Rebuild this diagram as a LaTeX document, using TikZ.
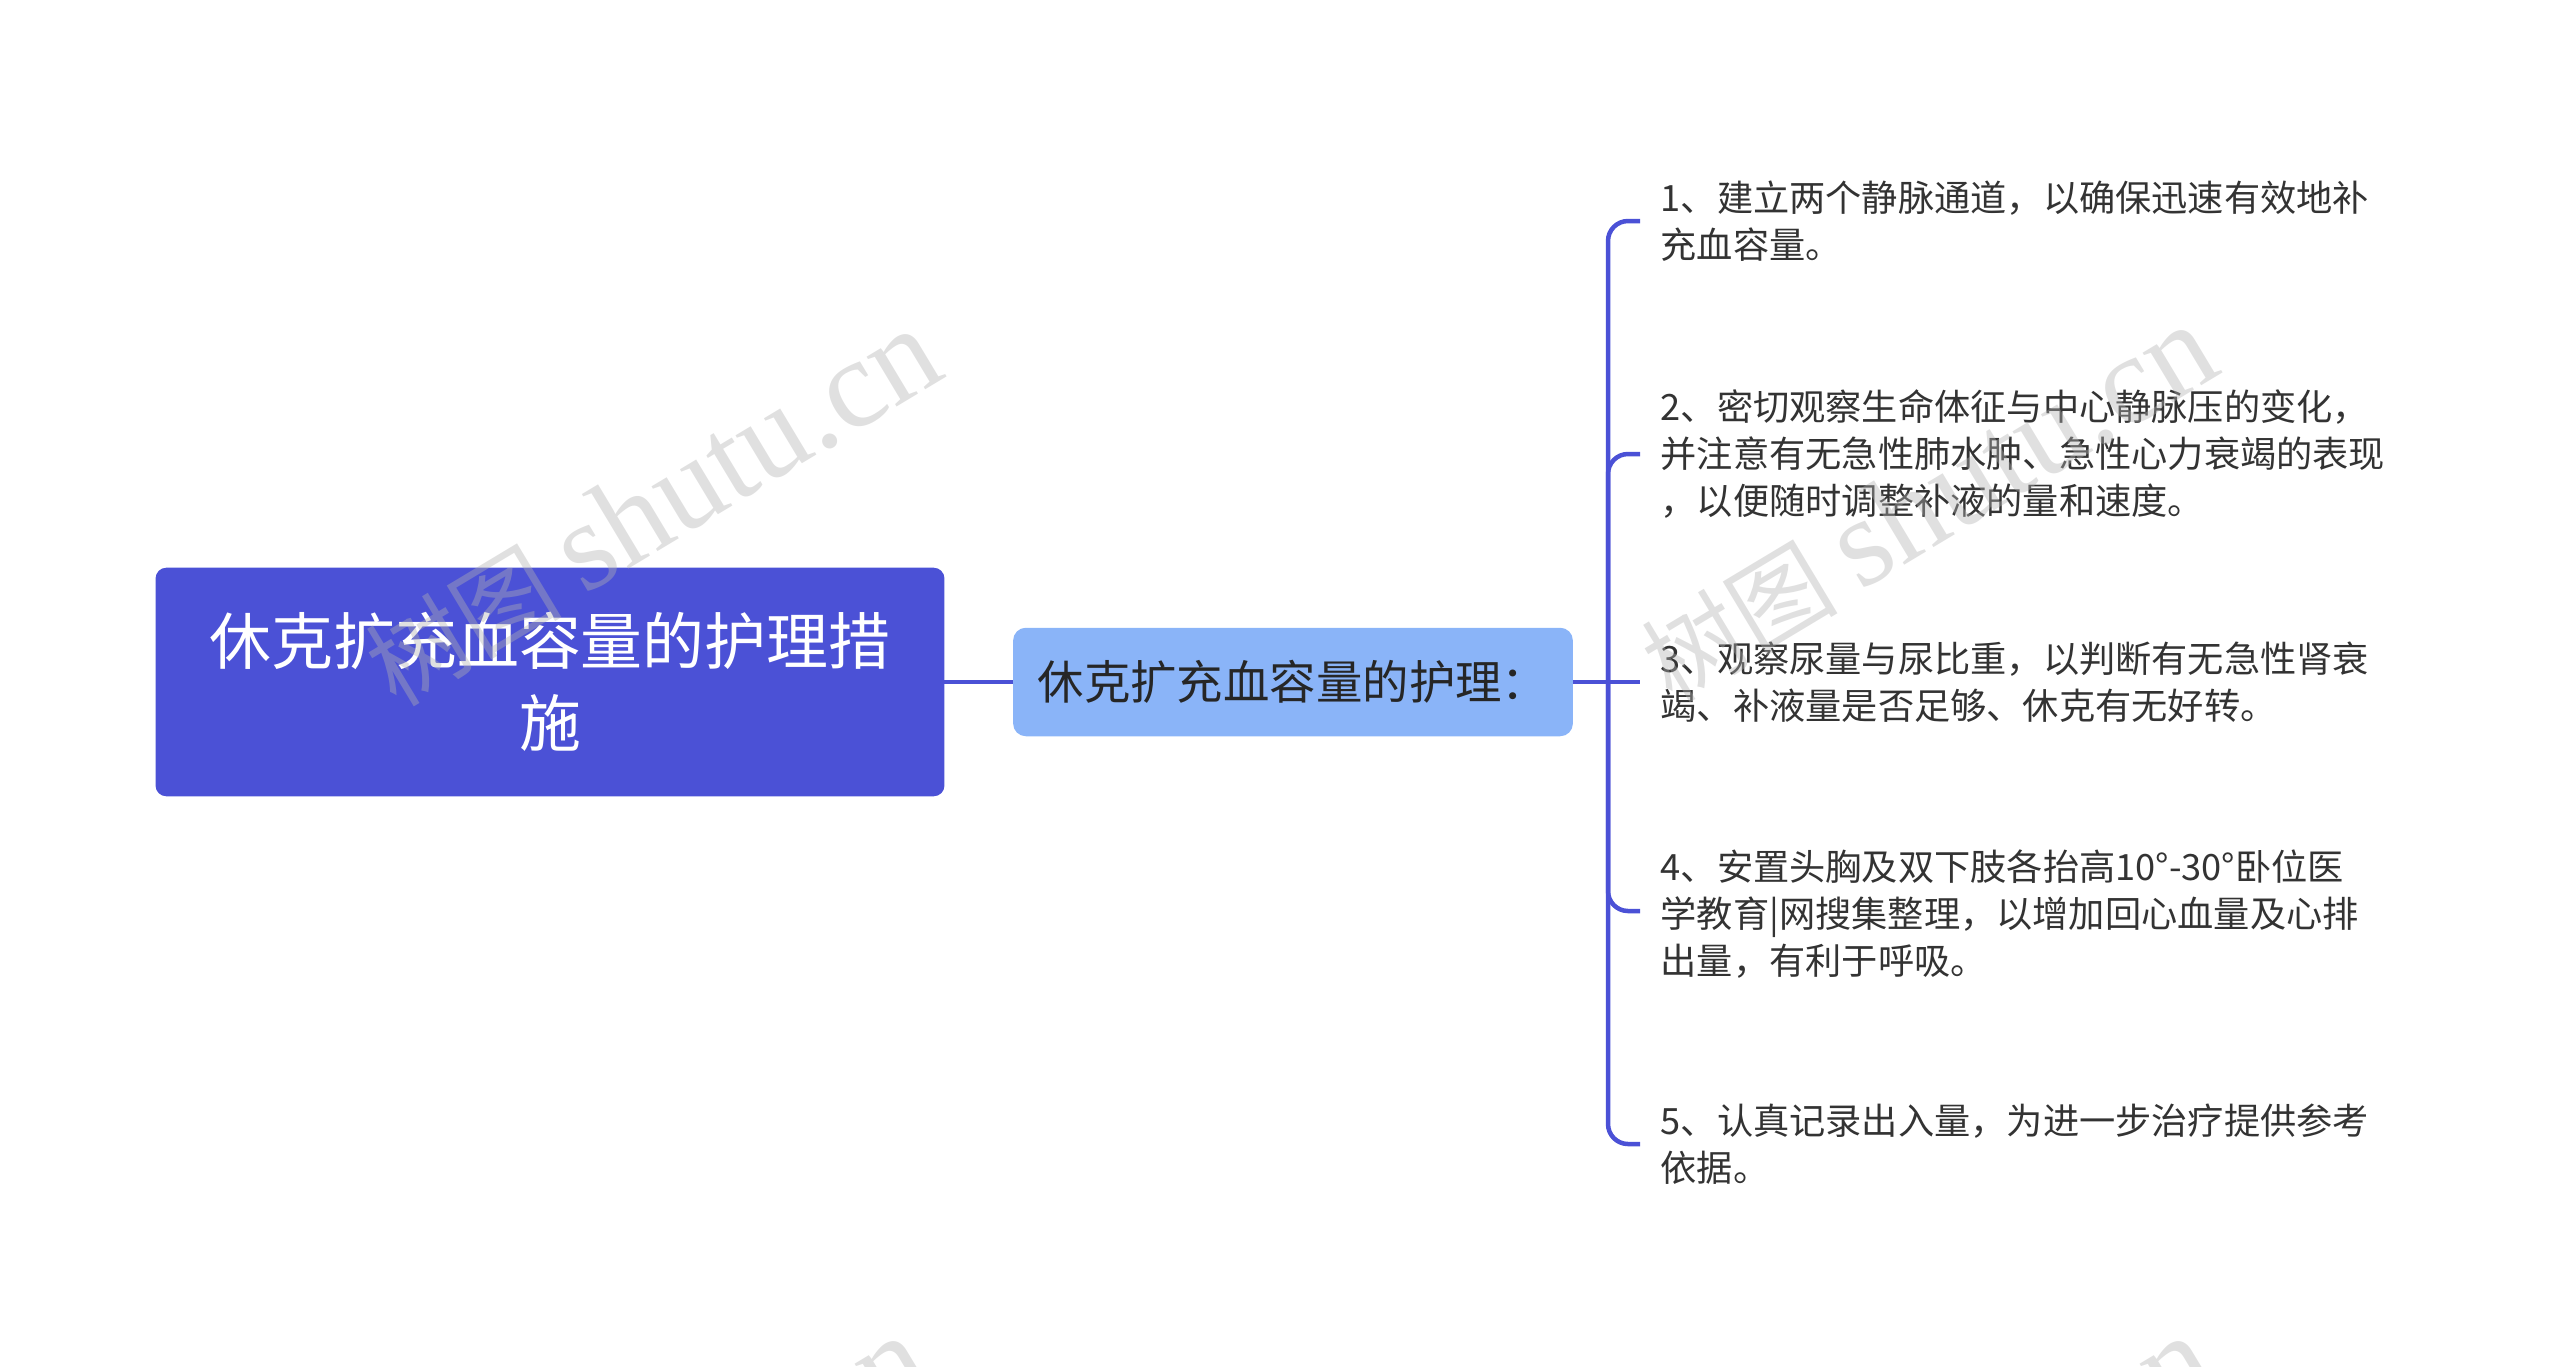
\documentclass[tikz,border=0pt]{standalone}
\usepackage{fontspec}
\setmainfont{Noto Sans CJK SC}
\newfontfamily\wmlatin{Liberation Serif}
\usetikzlibrary{positioning}

\definecolor{rootblue}{HTML}{4B51D6}
\definecolor{subblue}{HTML}{8AB4F8}
\definecolor{leafgray}{HTML}{333333}

\begin{document}
\begin{tikzpicture}[
    x=0.01cm, y=-0.01cm,
    root/.style={fill=rootblue, draw=rootblue, rounded corners=0.1cm,
      text=white, align=center, minimum width=7.87cm, minimum height=2.27cm,
      font=\fontsize{17.6}{23.3}\selectfont},
    sub/.style={fill=subblue, draw=subblue, rounded corners=0.12cm,
      text=black!85, minimum width=5.58cm, minimum height=1.07cm,
      font=\fontsize{13.2}{16}\selectfont},
    leaf/.style={anchor=west, align=left, inner xsep=0.2cm, inner ysep=0pt,
      text=leafgray, font=\fontsize{10.3}{13.3}\selectfont},
    branch/.style={draw=rootblue, line width=0.045cm, rounded corners=0.2cm},
    wm/.style={text=gray!60, opacity=0.4, rotate=31, inner sep=0pt}]

    \useasboundingbox (0,0) rectangle (2560,1366);
    \clip (0,0) rectangle (2560,1366);

    % nodes

    \node[root] (root) at (550,682) {休克扩充血容量的护理措\\施};
    \node[sub] (sub) at (1293,682) {休克扩充血容量的护理：};

    \coordinate (fork) at (1608,682);

    \node[leaf] (l1) at (1640,221) {1、建立两个静脉通道，以确保迅速有效地补\\充血容量。};
    \node[leaf] (l2) at (1640,454) {2、密切观察生命体征与中心静脉压的变化，\\并注意有无急性肺水肿、急性心力衰竭的表现\\，以便随时调整补液的量和速度。};
    \node[leaf] (l3) at (1640,682) {3、观察尿量与尿比重，以判断有无急性肾衰\\竭、补液量是否足够、休克有无好转。};
    \node[leaf] (l4) at (1640,914) {4、安置头胸及双下肢各抬高10°-30°卧位医\\学教育|网搜集整理，以增加回心血量及心排\\出量，有利于呼吸。};
    \node[leaf] (l5) at (1640,1144) {5、认真记录出入量，为进一步治疗提供参考\\依据。};

    % edges

    \draw[branch] (root.east) -- (sub.west);
    \draw[branch] (sub.east) -- (fork);
    \draw[branch] (fork) |- (l1.west);
    \draw[branch] (fork) |- (l2.west);
    \draw[branch] (fork) -- (l3.west);
    \draw[branch] (fork) |- ([yshift=0.03cm]l4.west);
    \draw[branch] (fork) |- (l5.west);

    % watermark

    \node[wm] (wm1) at (652,508) {\fontsize{28}{30}\selectfont 树图 {\wmlatin\fontsize{36}{40}\selectfont shutu.cn}};
    \node[wm] (wm2) at (1928,504) {\fontsize{28}{30}\selectfont 树图 {\wmlatin\fontsize{36}{40}\selectfont shutu.cn}};
    \node[wm] (wm3) at (640,1515) {\fontsize{28}{30}\selectfont 树图 {\wmlatin\fontsize{36}{40}\selectfont shutu.cn}};
    \node[wm] (wm4) at (1925,1515) {\fontsize{28}{30}\selectfont 树图 {\wmlatin\fontsize{36}{40}\selectfont shutu.cn}};
\end{tikzpicture}
\end{document}
